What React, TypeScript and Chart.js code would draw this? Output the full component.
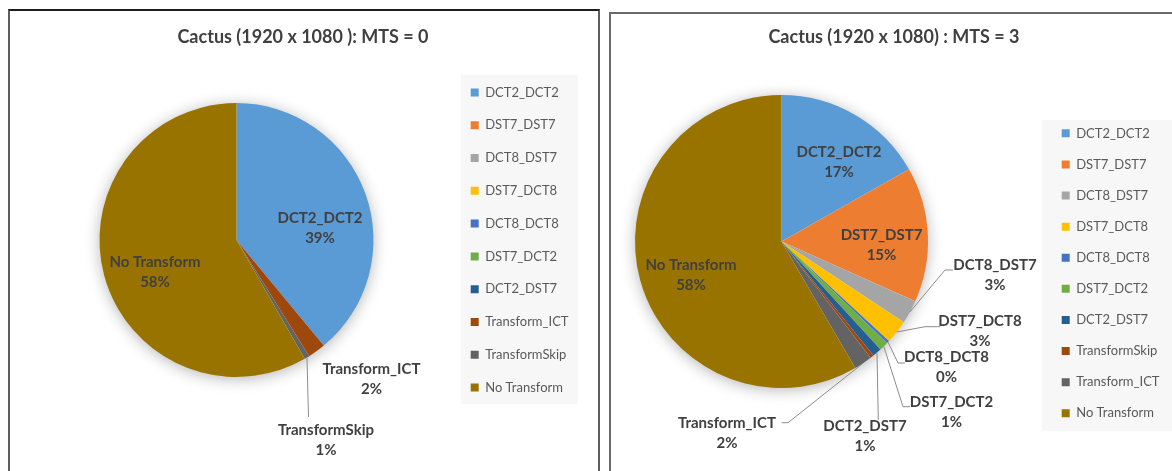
import React, { useEffect, useRef } from 'react';
import { Chart, registerables, layouts } from 'chart.js';

Chart.register(...registerables);

// ---------------- data ----------------
const LEFT_TITLE = 'Cactus (1920 x 1080 ): MTS = 0';
const RIGHT_TITLE = 'Cactus (1920 x 1080) : MTS = 3';

const LEFT_CATEGORIES = ['DCT2_DCT2', 'DST7_DST7', 'DCT8_DST7', 'DST7_DCT8', 'DCT8_DCT8', 'DST7_DCT2', 'DCT2_DST7', 'Transform_ICT', 'TransformSkip', 'No Transform'];
const LEFT_VALUES = [39.0, 0, 0, 0, 0, 0, 0, 2.1, 0.6, 58.3];

const RIGHT_CATEGORIES = ['DCT2_DCT2', 'DST7_DST7', 'DCT8_DST7', 'DST7_DCT8', 'DCT8_DCT8', 'DST7_DCT2', 'DCT2_DST7', 'TransformSkip', 'Transform_ICT', 'No Transform'];
const RIGHT_VALUES = [16.8, 14.9, 2.6, 2.6, 0.3, 1.0, 1.0, 0.4, 2.0, 58.4];

const PALETTE = ['#5B9BD5', '#ED7D31', '#A5A5A5', '#FFC000', '#4472C4', '#70AD47', '#255E91', '#9E480E', '#636363', '#997300'];

// label placement (offsets from pie centre, px)
type LabelSpec = { index: number; dx: number; dy: number; leader?: [number, number][] };

const LEFT_SLICE_LABELS: LabelSpec[] = [
  { index: 0, dx: 83.5, dy: -12 },
  { index: 7, dx: 135, dy: 139 },
  { index: 8, dx: 89.5, dy: 200, leader: [[72, 177]] },
  { index: 9, dx: -81.5, dy: 32 },
];

const RIGHT_SLICE_LABELS: LabelSpec[] = [
  { index: 0, dx: 57.5, dy: -79.5 },
  { index: 1, dx: 100, dy: 3.5 },
  { index: 2, dx: 213.5, dy: 33.5, leader: [[163.5, 28.5], [171.5, 28.5]] },
  { index: 3, dx: 198.5, dy: 89.5, leader: [[143.5, 85.2], [158.5, 85.2]] },
  { index: 4, dx: 165, dy: 126, leader: [[116.5, 121.5], [123.5, 121.5]] },
  { index: 5, dx: 170, dy: 170.5, leader: [[121.5, 165.2], [128.5, 165.2]] },
  { index: 6, dx: 83.5, dy: 195, leader: [[96.8, 178.5]] },
  { index: 8, dx: -54.5, dy: 191.5, leader: [[6.5, 181.2], [0.2, 181.2]] },
  { index: 9, dx: -90.5, dy: 33.5 },
];

// ---------------- layout ----------------
const PAGE_H = 471;
const FONT = 'Lato, "Open Sans", sans-serif';
const TITLE_SIZE = 18;
const TITLE_LH = 0.7;
const LEG_SIZE = 13;
const LEG_BOX = 8;
const LABEL_SIZE = 15;
const TEXT_COLOR = '#404040';

type PanelLayout = {
  canvasLeft: number; canvasWidth: number;
  pieX: number; pieY: number; radius: number;
  titleX: number; titleY: number; titleGap: number;
  legendItemLeft: number; legendSpacing: number;
  legendFirstY: number; legendLastY: number;
  bg: { left: number; width: number; top: number; bottom: number };
};

const LEFT_LAYOUT: PanelLayout = {
  canvasLeft: 0, canvasWidth: 605,
  pieX: 236.5, pieY: 240, radius: 137,
  titleX: 303, titleY: 37, titleGap: 8,
  legendItemLeft: 470.7, legendSpacing: 32.8, legendFirstY: 92, legendLastY: 387,
  bg: { left: 9.7, width: 117, top: 11, bottom: 10 },
};

const RIGHT_LAYOUT: PanelLayout = {
  canvasLeft: 480, canvasWidth: 820,
  pieX: 781.5, pieY: 241.5, radius: 146.5,
  titleX: 894, titleY: 37, titleGap: 0,
  legendItemLeft: 1061.7, legendSpacing: 31.1, legendFirstY: 133.3, legendLastY: 413.3,
  bg: { left: 19.7, width: 200, top: 7, bottom: 11 },
};

// ---------------- plugins ----------------
function spacerPlugin(width: number) {
  return {
    id: 'rightSpacer',
    beforeInit(chart: any) {
      const box: any = {
        position: 'right', weight: 5000, fullSize: false,
        options: { stackWeight: 1, display: true },
        left: 0, top: 0, right: 0, bottom: 0, width: 0, height: 0,
        isHorizontal() { return false; },
        update(_maxW: number, maxH: number) { this.width = width; this.height = maxH; },
        draw() {},
      };
      layouts.addBox(chart, box);
    },
  };
}

function legendBgPlugin(bg: PanelLayout['bg']) {
  return {
    id: 'legendBg',
    beforeDraw(chart: any) {
      const hb = chart.legend && chart.legend.legendHitBoxes;
      if (!hb || !hb.length) return;
      const first = hb[0];
      const last = hb[hb.length - 1];
      const ctx = chart.ctx;
      ctx.save();
      ctx.fillStyle = '#f7f7f7';
      ctx.fillRect(first.left - bg.left, first.top - bg.top, bg.width, last.top + last.height - first.top + bg.top + bg.bottom);
      ctx.restore();
    },
  };
}

const shadowPlugin = {
  id: 'pieShadow',
  beforeDatasetsDraw(chart: any) {
    const arc = chart.getDatasetMeta(0).data[0];
    if (!arc) return;
    const { x, y, outerRadius } = arc.getProps(['x', 'y', 'outerRadius'], true);
    const ctx = chart.ctx;
    ctx.save();
    ctx.shadowColor = 'rgba(0,0,0,0.32)';
    ctx.shadowBlur = 16;
    ctx.shadowOffsetY = 2;
    ctx.beginPath();
    ctx.arc(x, y, outerRadius - 1, 0, Math.PI * 2);
    ctx.fillStyle = '#ffffff';
    ctx.fill();
    ctx.restore();
  },
};

function sliceLabelPlugin(specs: LabelSpec[]) {
  return {
    id: 'sliceLabels',
    afterDatasetsDraw(chart: any) {
      const meta = chart.getDatasetMeta(0);
      const data = chart.data.datasets[0].data as number[];
      const total = data.reduce((a, b) => a + b, 0);
      const labels = chart.data.labels as string[];
      const ctx = chart.ctx;
      ctx.save();
      specs.forEach((s) => {
        const arc = meta.data[s.index];
        if (!arc) return;
        const { x, y, startAngle, endAngle, outerRadius } = arc.getProps(['x', 'y', 'startAngle', 'endAngle', 'outerRadius'], true);
        if (s.leader) {
          const mid = (startAngle + endAngle) / 2;
          ctx.beginPath();
          ctx.moveTo(x + outerRadius * Math.cos(mid), y + outerRadius * Math.sin(mid));
          s.leader.forEach(([px, py]) => ctx.lineTo(x + px, y + py));
          ctx.strokeStyle = '#8c8c8c';
          ctx.lineWidth = 1;
          ctx.stroke();
        }
        const cx = x + s.dx;
        const cy = y + s.dy;
        ctx.font = `bold ${LABEL_SIZE}px ${FONT}`;
        ctx.fillStyle = TEXT_COLOR;
        ctx.textAlign = 'center';
        ctx.textBaseline = 'middle';
        ctx.fillText(labels[s.index], cx, cy - 10);
        ctx.fillText(Math.round((data[s.index] / total) * 100) + '%', cx, cy + 10);
      });
      ctx.restore();
    },
  };
}

function naturalLegendWidth(categories: string[], padding: number) {
  const c = document.createElement('canvas').getContext('2d') as CanvasRenderingContext2D;
  c.font = `${LEG_SIZE}px ${FONT}`;
  let w = 0;
  categories.forEach((t) => { w = Math.max(w, LEG_BOX + LEG_SIZE / 2 + c.measureText(t).width); });
  return padding + w + 10;
}

// ---------------- component ----------------
function PiePanel(props: { title: string; categories: string[]; values: number[]; specs: LabelSpec[]; lay: PanelLayout }) {
  const ref = useRef<HTMLCanvasElement>(null);
  const { lay } = props;

  useEffect(() => {
    const P = lay.legendSpacing - LEG_SIZE;
    const legendLeft = lay.legendItemLeft - P;
    const caLeft = 2 * lay.pieX - legendLeft;
    const padLeft = caLeft - lay.canvasLeft;
    const M = naturalLegendWidth(props.categories, P);
    const S = Math.max(0, 2 * (lay.titleX - lay.pieX) - M);
    const titleRight = legendLeft + M + S;
    const padRight = lay.canvasLeft + lay.canvasWidth - titleRight;
    const padTop = 10;
    const tLH = TITLE_SIZE * TITLE_LH;
    const tpT = lay.titleY - tLH / 2 - padTop;
    const tpB = lay.titleGap;
    const caTop = padTop + tpT + tLH + tpB;
    const caBottom = 2 * lay.pieY - caTop;
    const padBottom = PAGE_H - caBottom;
    // an empty legend title pushes the (centred) items down
    const legendMid = (lay.legendFirstY + lay.legendLastY) / 2;
    const legendTitleH = Math.max(0, 2 * (legendMid - lay.pieY));
    const LT_FONT = 10;

    const chart = new Chart(ref.current as HTMLCanvasElement, {
      type: 'pie',
      data: {
        labels: props.categories,
        datasets: [{
          data: props.values,
          backgroundColor: PALETTE,
          borderWidth: 0,
          radius: lay.radius,
        } as any],
      },
      options: {
        responsive: false,
        animation: false,
        events: [],
        layout: { padding: { left: padLeft, right: padRight, top: padTop, bottom: padBottom } },
        plugins: {
          title: {
            display: true,
            text: props.title,
            color: TEXT_COLOR,
            font: { family: FONT, size: TITLE_SIZE, weight: 'bold', lineHeight: TITLE_LH },
            padding: { top: tpT, bottom: tpB },
            align: 'center',
            fullSize: true,
          },
          legend: {
            display: true,
            position: 'right',
            align: 'center',
            fullSize: false,
            title: {
              display: legendTitleH > LT_FONT,
              text: ' ',
              font: { size: LT_FONT, lineHeight: 1 },
              padding: { top: Math.max(0, legendTitleH - LT_FONT), bottom: 0 },
            },
            labels: {
              boxWidth: LEG_BOX,
              boxHeight: LEG_BOX,
              padding: P,
              color: '#595959',
              font: { family: FONT, size: LEG_SIZE },
            },
          },
          tooltip: { enabled: false },
        },
      } as any,
      plugins: [spacerPlugin(S), legendBgPlugin(lay.bg), shadowPlugin, sliceLabelPlugin(props.specs)],
    });
    return () => chart.destroy();
  }, []);

  return (
    <canvas
      ref={ref}
      width={lay.canvasWidth}
      height={PAGE_H}
      style={{ position: 'absolute', left: lay.canvasLeft, top: 0, width: lay.canvasWidth, height: PAGE_H }}
    />
  );
}

export default function App() {
  return (
    <div style={{ position: 'fixed', left: 0, top: 0, width: 1172, height: PAGE_H, overflow: 'hidden', background: '#ffffff' }}>
      <div style={{ position: 'absolute', left: 8, top: 9, width: 588, height: 500, borderLeft: '2px solid #5e5e5e', borderRight: '2px solid #5e5e5e', borderTop: '2px solid #1e1e1e' }} />
      <div style={{ position: 'absolute', left: 609, top: 12, width: 600, height: 500, border: '2px solid #6a6a6a' }} />
      <PiePanel title={LEFT_TITLE} categories={LEFT_CATEGORIES} values={LEFT_VALUES} specs={LEFT_SLICE_LABELS} lay={LEFT_LAYOUT} />
      <PiePanel title={RIGHT_TITLE} categories={RIGHT_CATEGORIES} values={RIGHT_VALUES} specs={RIGHT_SLICE_LABELS} lay={RIGHT_LAYOUT} />
    </div>
  );
}
